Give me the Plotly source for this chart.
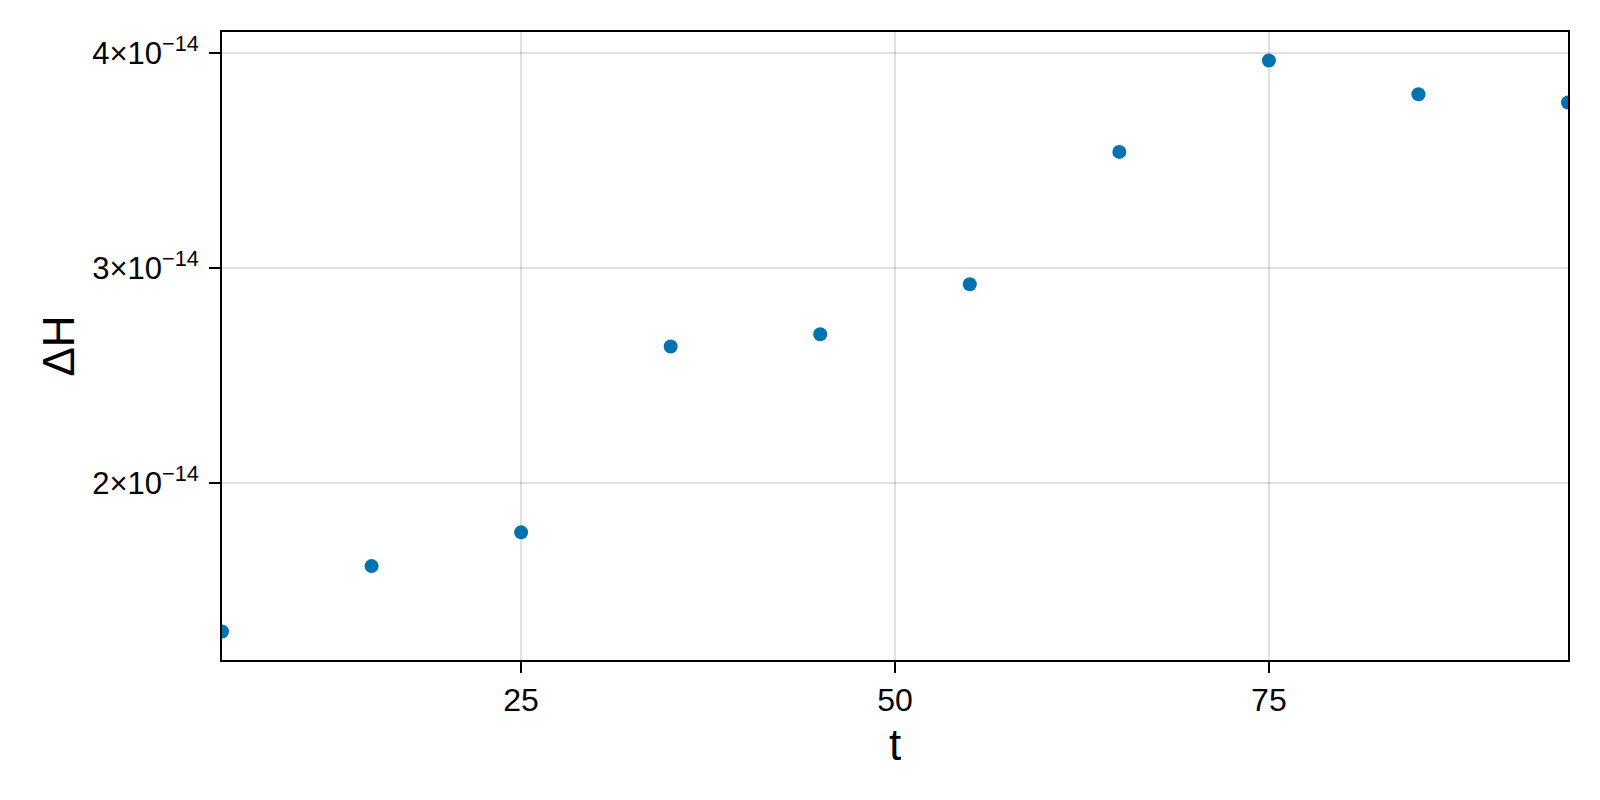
import plotly.graph_objects as go

t = [5, 15, 25, 35, 45, 55, 65, 75, 85, 95]
dH = [1.311e-14, 1.615e-14, 1.772e-14, 2.637e-14, 2.694e-14,
      2.926e-14, 3.542e-14, 3.967e-14, 3.810e-14, 3.772e-14]

x_ticks = [25, 50, 75]
y_ticks = [2e-14, 3e-14, 4e-14]
y_labels = ["2×10<sup>−14</sup>", "3×10<sup>−14</sup>", "4×10<sup>−14</sup>"]

pad = 0.05 * (max(dH) - min(dH))

fig = go.Figure(go.Scatter(
    x=t, y=dH, mode='markers',
    marker=dict(size=14, color='#0072B2', line=dict(width=0)),
    cliponaxis=True,
))

axis_style = dict(
    showline=True, linecolor='black', linewidth=2, mirror=True,
    ticks='outside', ticklen=11, tickwidth=2, tickcolor='black',
    showgrid=True, gridcolor='rgba(0,0,0,0.12)', gridwidth=1.5,
    zeroline=False,
)

fig.update_layout(
    width=1600, height=800,
    paper_bgcolor='white', plot_bgcolor='white',
    font=dict(family='Liberation Sans, Arial, sans-serif', color='black'),
    margin=dict(l=222, r=32, t=32, b=140),
    showlegend=False,
    xaxis=dict(axis_style, range=[5, 95], tickvals=x_ticks,
               tickfont=dict(size=32, color='black'),
               title=dict(text='t', font=dict(size=44), standoff=12)),
    yaxis=dict(axis_style, range=[min(dH) - pad, max(dH) + pad],
               tickvals=y_ticks, ticktext=y_labels,
               tickfont=dict(size=31, color='black'),
               ticklabelstandoff=4,
               title=dict(text='ΔH', font=dict(size=44), standoff=4)),
)

# no page margin, so the 1600x800 figure sits exactly in the window
fig.write_html("out.html", config={'displayModeBar': False},
               post_script="document.body.style.margin='0';"
                           "document.body.style.overflow='hidden';")
